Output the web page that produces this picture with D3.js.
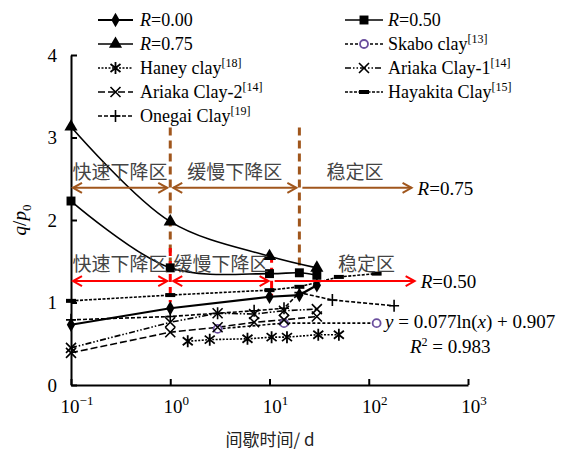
<!DOCTYPE html>
<html>
<head>
<meta charset="utf-8">
<script src="https://cdn.jsdelivr.net/npm/d3@7"></script>
<style>
body { margin: 0; background: #fff; }
svg text { font-family: "Liberation Serif", "Times New Roman", serif; }
svg text.cn { font-family: "Noto Sans CJK SC", sans-serif; }
</style>
</head>
<body>
<svg id="chart" width="565" height="452"></svg>
<script>
// tick values
var xTicks = [0.1, 1, 10, 100, 1000];
var yTicks = [0, 1, 2, 3, 4];

// series: [days, q/p0]
var r000 = [[0.1, 0.73], [1, 0.93], [10, 1.07], [20, 1.09], [30, 1.21]];
var r050 = [[0.1, 2.23], [1, 1.42], [10, 1.35], [20, 1.36], [30, 1.33]];
var r075 = [[0.1, 3.13], [1, 1.98], [10, 1.56], [30, 1.42]];
var skabo = [[3, 0.68], [14, 0.75], [120, 0.75]];
var haney = [[1.5, 0.53], [2.5, 0.55], [6, 0.56], [10.5, 0.58], [15, 0.58], [31, 0.61], [50, 0.61]];
var ariaka1 = [[0.1, 0.45], [1, 0.76], [3, 0.87], [7, 0.86], [14, 0.9], [30, 0.92]];
var ariaka2 = [[0.1, 0.39], [1, 0.64], [3, 0.7], [7, 0.76], [14, 0.79], [30, 0.83]];
var hayakita = [[0.1, 1.02], [1, 1.09], [10, 1.15], [20, 1.19], [50, 1.31], [120, 1.35]];
var onegai = [[0.1, 0.79], [1, 0.83], [3, 0.87], [7, 0.9], [14, 0.93], [20, 1.12], [43, 1.03], [180, 0.96]];

// zone boundaries (days) and arrow levels
var brownBounds = [0.1, 1, 20, 270];
var brownLevel = 2.39;
var redBounds = [0.1, 1, 10.5, 290];
var redLevel = 1.26;
var zoneNames = ["快速下降区", "缓慢下降区", "稳定区"];

var svg = d3.select("#chart");
var x = d3.scaleLog().domain([0.1, 1000]).range([71, 468]);
var y = d3.scaleLinear().domain([0, 4]).range([385, 55]);

var brown = "#a0561c", red = "#ff0000", purple = "#6b4f9e";

function marker(g, type, px, py) {
    var m;
    if (type == "diamond") {
        m = g.append("path").attr("d", d3.symbol(d3.symbolDiamond, 60)()).attr("fill", "#000");
    } else if (type == "square") {
        m = g.append("path").attr("d", d3.symbol(d3.symbolSquare, 80)()).attr("fill", "#000");
    } else if (type == "triangle") {
        m = g.append("path").attr("d", d3.symbol(d3.symbolTriangle, 75)()).attr("fill", "#000");
    } else if (type == "circle") {
        m = g.append("circle").attr("r", 4).attr("fill", "#fff").attr("stroke", purple).attr("stroke-width", 1.8);
    } else if (type == "asterisk") {
        m = g.append("path").attr("d", "M-5,-4L5,4M-5,4L5,-4M0,-6L0,6").attr("stroke", "#000").attr("stroke-width", 1.8);
    } else if (type == "cross") {
        m = g.append("path").attr("d", "M-5,-5L5,5M-5,5L5,-5").attr("stroke", "#000").attr("stroke-width", 1.6);
    } else if (type == "plus") {
        m = g.append("path").attr("d", "M-5,0L5,0M0,-6L0,6").attr("stroke", "#000").attr("stroke-width", 1.6);
    } else if (type == "bar") {
        m = g.append("rect").attr("x", -5).attr("y", -2).attr("width", 10).attr("height", 4).attr("fill", "#000");
    }
    m.attr("transform", "translate(" + px + "," + py + ")");
}

var series = [
    { label: ["R", "=0.00"], data: r000, marker: "diamond", dash: null, width: 2.2, curve: d3.curveLinear, col: 0, row: 0 },
    { label: ["R", "=0.50"], data: r050, marker: "square", dash: null, width: 1.6, curve: d3.curveCatmullRom, col: 1, row: 0 },
    { label: ["R", "=0.75"], data: r075, marker: "triangle", dash: null, width: 1.6, curve: d3.curveCatmullRom, col: 0, row: 1 },
    { label: ["", "Skabo clay", "[13]"], data: skabo, marker: "circle", dash: "3,2", width: 1.6, curve: d3.curveLinear, col: 1, row: 1 },
    { label: ["", "Haney clay", "[18]"], data: haney, marker: "asterisk", dash: "2,1.5", width: 1.6, curve: d3.curveLinear, col: 0, row: 2 },
    { label: ["", "Ariaka Clay-1", "[14]"], data: ariaka1, marker: "cross", dash: "6,2,1.5,2,1.5,2", width: 1.6, curve: d3.curveLinear, col: 1, row: 2 },
    { label: ["", "Ariaka Clay-2", "[14]"], data: ariaka2, marker: "cross", dash: "7,3", width: 1.6, curve: d3.curveLinear, col: 0, row: 3 },
    { label: ["", "Hayakita Clay", "[15]"], data: hayakita, marker: "bar", dash: "3,1.5", width: 1.6, curve: d3.curveLinear, col: 1, row: 3 },
    { label: ["", "Onegai Clay", "[19]"], data: onegai, marker: "plus", dash: "4,2", width: 1.6, curve: d3.curveLinear, col: 0, row: 4 }
];

// axes
var xAxis = svg.append("g").attr("transform", "translate(0,385)")
    .call(d3.axisBottom(x).tickValues(xTicks).tickFormat("").tickSizeInner(-6).tickSizeOuter(0));
var yAxis = svg.append("g").attr("transform", "translate(71,0)")
    .call(d3.axisLeft(y).tickValues(yTicks).tickFormat(d3.format("d")).tickSizeInner(-6).tickSizeOuter(0).tickPadding(14));
[xAxis, yAxis].forEach(function (a) {
    a.attr("font-family", "Liberation Serif");
    a.select(".domain").attr("stroke-width", 2);
    a.selectAll(".tick line").attr("stroke-width", 2);
});
yAxis.selectAll(".tick text").attr("font-size", 19);

xTicks.forEach(function (t) {
    var e = Math.round(Math.log10(t));
    var tx = svg.append("text").attr("x", x(t) + 6).attr("y", 413).attr("text-anchor", "middle").attr("font-size", 19);
    tx.append("tspan").text("10");
    tx.append("tspan").attr("dy", -8).attr("font-size", 13).text(e < 0 ? "\u2212" + (-e) : e);
});

svg.append("text").attr("class", "cn").attr("x", 270).attr("y", 446).attr("text-anchor", "middle")
    .attr("font-size", 17).attr("fill", "#222").text("间歇时间/ d");

var yt = svg.append("text").attr("transform", "translate(26,220) rotate(-90)").attr("text-anchor", "middle").attr("font-size", 19);
yt.append("tspan").attr("font-style", "italic").text("q");
yt.append("tspan").text("/");
yt.append("tspan").attr("font-style", "italic").text("p");
yt.append("tspan").attr("dy", 5).attr("font-size", 13).text("0");

// zone guide lines
function vdash(d, y0, y1, color) {
    svg.append("line").attr("x1", x(d)).attr("x2", x(d)).attr("y1", y(y0)).attr("y2", y(y1))
        .attr("stroke", color).attr("stroke-width", 3).attr("stroke-dasharray", "8,5");
}
vdash(brownBounds[1], 3.12, 1.42, brown);
vdash(brownBounds[2], 3.12, 1.42, brown);
vdash(redBounds[1], 1.66, 1.0, red);
vdash(redBounds[2], 1.58, 1.09, red);

function arrowLine(x0, x1, py, color, both) {
    svg.append("line").attr("x1", x0).attr("x2", x1).attr("y1", py).attr("y2", py)
        .attr("stroke", color).attr("stroke-width", 2);
    svg.append("path").attr("d", "M" + (x1 - 9) + "," + (py - 5) + "L" + x1 + "," + py + "L" + (x1 - 9) + "," + (py + 5))
        .attr("fill", "none").attr("stroke", color).attr("stroke-width", 2);
    if (both) {
        svg.append("path").attr("d", "M" + (x0 + 9) + "," + (py - 5) + "L" + x0 + "," + py + "L" + (x0 + 9) + "," + (py + 5))
            .attr("fill", "none").attr("stroke", color).attr("stroke-width", 2);
    }
}

function zones(bounds, level, color, labelY, lastShift, rLabel) {
    var py = y(level);
    for (var i = 0; i < 3; i++) {
        var a = x(bounds[i]) + (i == 0 ? 2 : 3), b = x(bounds[i + 1]) - (i == 2 ? 0 : 3);
        arrowLine(a, b, py, color, i < 2);
        svg.append("text").attr("class", "cn").attr("x", (a + b) / 2 + (i == 2 ? lastShift : 0)).attr("y", labelY)
            .attr("text-anchor", "middle").attr("font-size", 19).attr("fill", "#444").text(zoneNames[i]);
    }
    var t = svg.append("text").attr("x", x(bounds[3]) + 6).attr("y", py + 7).attr("font-size", 19);
    t.append("tspan").attr("font-style", "italic").text("R");
    t.append("tspan").text(rLabel);
}

// series
var line = d3.line().x(function (d) { return x(d[0]); }).y(function (d) { return y(d[1]); });
series.forEach(function (s) {
    svg.append("path").datum(s.data).attr("d", line.curve(s.curve))
        .attr("fill", "none").attr("stroke", "#000").attr("stroke-width", s.width)
        .attr("stroke-dasharray", s.dash);
});
series.forEach(function (s) {
    s.data.forEach(function (d) { marker(svg, s.marker, x(d[0]), y(d[1])); });
});

zones(brownBounds, brownLevel, brown, 179, -2, "=0.75");
zones(redBounds, redLevel, red, 271, 22, "=0.50");

// fit annotation
var ft = svg.append("text").attr("x", 385).attr("y", 328).attr("font-size", 19);
ft.append("tspan").attr("font-style", "italic").text("y");
ft.append("tspan").text(" = 0.077ln(");
ft.append("tspan").attr("font-style", "italic").text("x");
ft.append("tspan").text(") + 0.907");
var r2 = svg.append("text").attr("x", 410).attr("y", 353).attr("font-size", 19);
r2.append("tspan").attr("font-style", "italic").text("R");
r2.append("tspan").attr("dy", -7).attr("font-size", 12).text("2");
r2.append("tspan").attr("dy", 7).text(" = 0.983");

// legend
var legCols = [[98, 133, 140], [345, 383, 388]];
var legRows = [20, 44, 68, 92, 116];
series.forEach(function (s) {
    var c = legCols[s.col], ry = legRows[s.row];
    svg.append("line").attr("x1", c[0]).attr("x2", c[1]).attr("y1", ry).attr("y2", ry)
        .attr("stroke", "#000").attr("stroke-width", s.width).attr("stroke-dasharray", s.dash);
    marker(svg, s.marker, (c[0] + c[1]) / 2, ry);
    var t = svg.append("text").attr("x", c[2]).attr("y", ry + 6).attr("font-size", 18);
    if (s.label[0]) {
        t.append("tspan").attr("font-style", "italic").text(s.label[0]);
        t.append("tspan").text(s.label[1]);
    } else {
        t.append("tspan").text(s.label[1]);
        t.append("tspan").attr("dy", -7).attr("font-size", 12).text(s.label[2]);
    }
});
</script>
</body>
</html>
